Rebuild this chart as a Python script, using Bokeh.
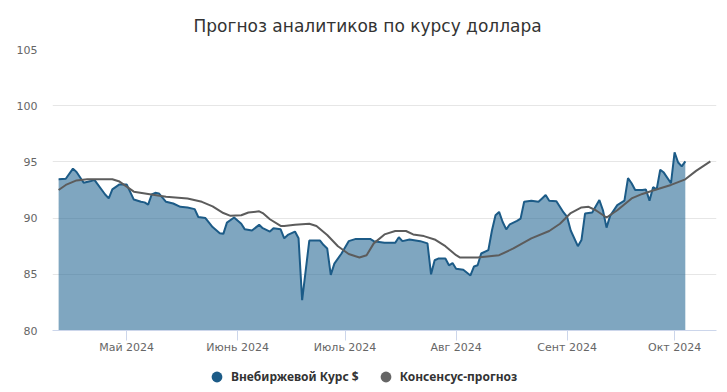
from datetime import datetime
import pandas as pd
from bokeh.plotting import figure
from bokeh.layouts import column
from bokeh.models import (Range1d, FixedTicker, Legend, LegendItem, ColumnDataSource)
from bokeh.embed import file_html
from bokeh.resources import INLINE

# ---- data ----
fx_dates = ["2024-04-12", "2024-04-14", "2024-04-16", "2024-04-17", "2024-04-19", "2024-04-21",
            "2024-04-22", "2024-04-25", "2024-04-26", "2024-04-27", "2024-04-29", "2024-05-01",
            "2024-05-03", "2024-05-05", "2024-05-06", "2024-05-07", "2024-05-08", "2024-05-09",
            "2024-05-10", "2024-05-12", "2024-05-14", "2024-05-16", "2024-05-18", "2024-05-20",
            "2024-05-21", "2024-05-23", "2024-05-25", "2024-05-27", "2024-05-28", "2024-05-29",
            "2024-05-31", "2024-06-02", "2024-06-03", "2024-06-05", "2024-06-07", "2024-06-08",
            "2024-06-10", "2024-06-11", "2024-06-13", "2024-06-14", "2024-06-15", "2024-06-17",
            "2024-06-18", "2024-06-19", "2024-06-21", "2024-06-24", "2024-06-25", "2024-06-26",
            "2024-06-27", "2024-06-28", "2024-06-30", "2024-07-02", "2024-07-04", "2024-07-08",
            "2024-07-09", "2024-07-12", "2024-07-15", "2024-07-16", "2024-07-17", "2024-07-19",
            "2024-07-22", "2024-07-24", "2024-07-25", "2024-07-26", "2024-07-27", "2024-07-29",
            "2024-07-30", "2024-07-31", "2024-08-01", "2024-08-03", "2024-08-05", "2024-08-06",
            "2024-08-07", "2024-08-08", "2024-08-10", "2024-08-11", "2024-08-12", "2024-08-13",
            "2024-08-14", "2024-08-15", "2024-08-16", "2024-08-18", "2024-08-19", "2024-08-20",
            "2024-08-22", "2024-08-24", "2024-08-25", "2024-08-26", "2024-08-27", "2024-08-29",
            "2024-08-31", "2024-09-01", "2024-09-02", "2024-09-04", "2024-09-05", "2024-09-06",
            "2024-09-08", "2024-09-09", "2024-09-10", "2024-09-11", "2024-09-12", "2024-09-13",
            "2024-09-15", "2024-09-17", "2024-09-18", "2024-09-19", "2024-09-20", "2024-09-22",
            "2024-09-23", "2024-09-24", "2024-09-25", "2024-09-26", "2024-09-27", "2024-09-28",
            "2024-09-30", "2024-10-01", "2024-10-02", "2024-10-03", "2024-10-04"]
fx_values = [93.45, 93.5, 94.4, 94.1, 93.15, 93.3,
             93.4, 92.1, 91.75, 92.55, 93.0, 93.0,
             91.65, 91.45, 91.4, 91.2, 92.1, 92.25,
             92.2, 91.45, 91.3, 91.0, 90.95, 90.8,
             90.1, 90.0, 89.2, 88.65, 88.6, 89.6,
             90.05, 89.5, 89.0, 88.9, 89.4, 89.1,
             88.8, 89.1, 89.0, 88.2, 88.5, 88.8,
             88.2, 82.7, 88.0, 88.0, 87.6, 87.3,
             84.95, 85.95, 86.85, 87.95, 88.15, 88.15,
             87.95, 87.8, 87.8, 88.3, 87.95, 88.1,
             87.95, 87.75, 85.0, 86.25, 86.4, 86.4,
             85.8, 86.0, 85.5, 85.4, 84.9, 85.7,
             85.8, 86.85, 87.15, 88.9, 90.25, 90.55,
             89.65, 89.0, 89.45, 89.75, 89.95, 91.45,
             91.55, 91.45, 91.75, 92.05, 91.55, 91.5,
             90.5, 90.1, 88.9, 87.5, 88.05, 90.4,
             90.5, 91.05, 91.6, 90.7, 89.15, 90.2,
             91.15, 91.55, 93.55, 93.1, 92.5, 92.5,
             92.55, 91.55, 92.75, 92.55, 94.3, 94.05,
             93.1, 95.85, 94.95, 94.6, 95.05]

fc_dates = ["2024-04-12", "2024-04-14", "2024-04-17", "2024-04-20", "2024-04-27", "2024-04-29",
            "2024-05-01", "2024-05-03", "2024-05-07", "2024-05-12", "2024-05-18", "2024-05-22",
            "2024-05-25", "2024-05-28", "2024-05-30", "2024-06-02", "2024-06-04", "2024-06-07",
            "2024-06-08", "2024-06-10", "2024-06-13", "2024-06-14", "2024-06-17", "2024-06-21",
            "2024-06-23", "2024-06-26", "2024-06-29", "2024-07-02", "2024-07-05", "2024-07-07",
            "2024-07-09", "2024-07-12", "2024-07-15", "2024-07-18", "2024-07-20", "2024-07-23",
            "2024-07-26", "2024-07-29", "2024-08-01", "2024-08-02", "2024-08-07", "2024-08-13",
            "2024-08-17", "2024-08-22", "2024-08-27", "2024-08-30", "2024-09-02", "2024-09-05",
            "2024-09-07", "2024-09-09", "2024-09-12", "2024-09-15", "2024-09-19", "2024-09-22",
            "2024-09-25", "2024-09-30", "2024-10-04", "2024-10-07", "2024-10-11"]
fc_values = [92.5, 92.95, 93.35, 93.45, 93.45, 93.25,
             92.8, 92.35, 92.15, 91.9, 91.75, 91.45,
             91.05, 90.45, 90.2, 90.25, 90.5, 90.6,
             90.45, 89.9, 89.3, 89.3, 89.4, 89.5,
             89.3, 88.5, 87.5, 86.8, 86.5, 86.7,
             87.75, 88.55, 88.85, 88.85, 88.55, 88.4,
             88.1, 87.5, 86.7, 86.5, 86.5, 86.7,
             87.3, 88.2, 88.85, 89.5, 90.45, 90.95,
             91.0, 90.7, 90.05, 90.7, 91.75, 92.15,
             92.45, 92.95, 93.45, 94.2, 95.05]

month_ticks = ["2024-05-01", "2024-06-01", "2024-07-01", "2024-08-01", "2024-09-01", "2024-10-01"]
month_labels = ["Май 2024", "Июнь 2024", "Июль 2024", "Авг 2024", "Сент 2024", "Окт 2024"]
y_ticks = [80, 85, 90, 95, 100, 105]

series_names = ["Внебиржевой Курс $", "Консенсус-прогноз"]
title_text = "Прогноз аналитиков по курсу доллара"

FONT = "DejaVu Sans"
LEGEND_FONT = "Noto Sans"
BLUE = "#1c5b87"
GRAY = "#5c5c5c"

fx = ColumnDataSource(dict(x=pd.to_datetime(fx_dates), y=fx_values))
fc = ColumnDataSource(dict(x=pd.to_datetime(fc_dates), y=fc_values))

W = 720
p = figure(width=W, height=362, x_axis_type="datetime",
           x_range=Range1d(datetime(2024, 4, 10, 7), datetime(2024, 10, 12, 17)),
           y_range=Range1d(80, 105),
           output_backend="svg", toolbar_location=None,
           min_border_left=52, min_border_right=4, min_border_top=49, min_border_bottom=32,
           title=title_text)
p.outline_line_color = None
p.background_fill_color = "white"

p.title.text_font = FONT
p.title.text_font_size = "17px"
p.title.text_font_style = "normal"
p.title.text_color = "#333333"
p.title.align = "left"
p.title.offset = 141
p.title.standoff = 27

# grid
p.xgrid.grid_line_color = None
p.ygrid.grid_line_color = "#e6e6e6"
p.ygrid.ticker = FixedTicker(ticks=y_ticks)

# y axis
p.yaxis.ticker = FixedTicker(ticks=y_ticks)
p.yaxis.axis_line_color = None
p.yaxis.major_tick_line_color = None
p.yaxis.minor_tick_line_color = None
p.yaxis.major_tick_out = 0
p.yaxis.major_tick_in = 0
p.yaxis.major_label_standoff = 15
p.yaxis.major_label_text_font = FONT
p.yaxis.major_label_text_font_size = "11px"
p.yaxis.major_label_text_color = "#666666"

# x axis
tick_ms = [pd.Timestamp(d).value // 10**6 for d in month_ticks]
p.xaxis.ticker = FixedTicker(ticks=tick_ms)
p.xaxis.major_label_overrides = {t: l for t, l in zip(tick_ms, month_labels)}
p.xaxis.axis_line_color = "#ccd6eb"
p.xaxis.major_tick_line_color = "#ccd6eb"
p.xaxis.minor_tick_line_color = None
p.xaxis.major_tick_out = 10
p.xaxis.major_tick_in = 0
p.xaxis.major_label_standoff = 0
p.xaxis.major_label_text_font = FONT
p.xaxis.major_label_text_font_size = "11px"
p.xaxis.major_label_text_color = "#666666"

# series
p.varea(x="x", y1=0, y2="y", source=fx, fill_color="#2a6a96", fill_alpha=0.6)
p.line(x="x", y="y", source=fx, line_color=BLUE, line_width=2)
p.line(x="x", y="y", source=fc, line_color=GRAY, line_width=2)

# ---- legend strip below the chart ----
lg = figure(width=W, height=30, x_range=Range1d(0, 1), y_range=Range1d(0, 1),
            output_backend="svg", toolbar_location=None,
            min_border_left=0, min_border_right=0, min_border_top=0, min_border_bottom=0)
lg.axis.visible = False
lg.grid.visible = False
lg.outline_line_color = None
# zero-size markers: only the legend shows their circle symbol
r1 = lg.scatter(x="x", y="y", source=fx, size=0, marker="circle", fill_color=BLUE, line_color=None)
r2 = lg.scatter(x="x", y="y", source=fc, size=0, marker="circle", fill_color="#666666", line_color=None)
legend = Legend(items=[LegendItem(label=series_names[0], renderers=[r1]),
                       LegendItem(label=series_names[1], renderers=[r2])],
                orientation="horizontal", location=(151, 2),
                border_line_color=None, background_fill_alpha=0,
                label_text_font=LEGEND_FONT, label_text_font_size="12px",
                label_text_font_style="bold", label_text_color="#333333",
                glyph_width=27, glyph_height=27, label_standoff=1, spacing=13,
                padding=0, margin=0)
lg.add_layout(legend, "center")

layout = column(p, lg, spacing=0)
open("out.html", "w").write(file_html(layout, INLINE))
